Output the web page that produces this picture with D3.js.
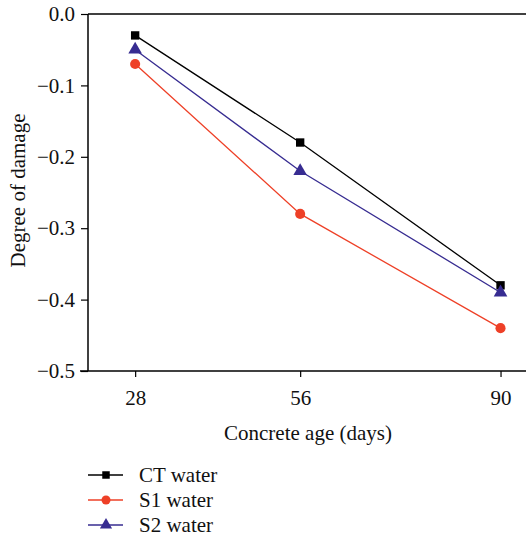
<!DOCTYPE html>
<html>
<head>
<meta charset="utf-8">
<script src="https://cdn.jsdelivr.net/npm/d3@7"></script>
<style>
  html, body { margin: 0; padding: 0; background: #fff; }
  svg text { font-family: "Liberation Serif", "DejaVu Serif", serif; fill: #111; }
</style>
</head>
<body>
<svg id="chart" width="526" height="540"></svg>
<script>
// Concrete age (days) and degree of damage per water type
const ages = [28, 56, 90];
const ctWater = [-0.03, -0.18, -0.38];
const s1Water = [-0.07, -0.28, -0.44];
const s2Water = [-0.05, -0.22, -0.39];
const seriesNames = ["CT water", "S1 water", "S2 water"];
const yTicks = [0.0, -0.1, -0.2, -0.3, -0.4, -0.5];

const series = [
  { name: seriesNames[0], values: ctWater, color: "#000000", symbol: d3.symbolSquare, size: 70 },
  { name: seriesNames[1], values: s1Water, color: "#ee4027", symbol: d3.symbolCircle, size: 80 },
  { name: seriesNames[2], values: s2Water, color: "#372c91", symbol: d3.symbolTriangle, size: 80 }
];

const FONT = 21;
const svg = d3.select("#chart");
const plotLeft = 88, plotTop = 14, plotBottom = 371, plotRight = 530;

const x = d3.scaleLinear().domain([20, 95]).range([plotLeft, plotRight]);
const y = d3.scaleLinear().domain([-0.5, 0]).range([plotBottom, plotTop]);

const fmt = v => (v < 0 ? "\u2212" : "") + Math.abs(v).toFixed(1);

// Axes
const yAxis = svg.append("g")
  .attr("transform", `translate(${plotLeft},0)`)
  .call(d3.axisLeft(y).tickValues(yTicks).tickFormat(fmt).tickSize(7).tickPadding(6));
const xAxis = svg.append("g")
  .attr("transform", `translate(0,${plotBottom})`)
  .call(d3.axisBottom(x).tickValues(ages).tickFormat(d3.format("d")).tickSize(6).tickPadding(13));
// Top frame line
svg.append("line")
  .attr("x1", plotLeft).attr("x2", plotRight).attr("y1", plotTop).attr("y2", plotTop)
  .attr("stroke", "#000").attr("stroke-width", 1.5);

[yAxis, xAxis].forEach(g => {
  g.selectAll("path.domain").attr("stroke", "#000").attr("stroke-width", 1.5);
  g.selectAll(".tick line").attr("stroke", "#000").attr("stroke-width", 1.2);
  g.selectAll(".tick text").attr("font-size", FONT).attr("font-family", "Liberation Serif, serif").attr("fill", "#111");
});
yAxis.select("path.domain").attr("d", `M0,${plotBottom}V${plotTop}`);
xAxis.select("path.domain").attr("d", `M${plotLeft - 8},0H${plotRight}`);

// Axis titles
svg.append("text")
  .attr("x", 308).attr("y", 440)
  .attr("text-anchor", "middle").attr("font-size", FONT)
  .text("Concrete age (days)");
svg.append("text")
  .attr("transform", `translate(25,${(plotTop + plotBottom) / 2 - 2}) rotate(-90)`)
  .attr("text-anchor", "middle").attr("font-size", FONT)
  .text("Degree of damage");

// Lines and markers
const line = d3.line().x((d, i) => x(ages[i])).y(d => y(d));
series.forEach(s => {
  svg.append("path")
    .datum(s.values)
    .attr("d", line)
    .attr("fill", "none")
    .attr("stroke", s.color)
    .attr("stroke-width", 1.3);
  svg.selectAll(null)
    .data(s.values)
    .enter().append("path")
    .attr("transform", (d, i) => `translate(${x(ages[i])},${y(d)})`)
    .attr("d", d3.symbol().type(s.symbol).size(s.size))
    .attr("fill", s.color);
});

// Legend
const legend = svg.append("g").attr("transform", "translate(88,475)");
series.forEach((s, i) => {
  const g = legend.append("g").attr("transform", `translate(0,${i * 25})`);
  g.append("line").attr("x1", 0).attr("x2", 35).attr("y1", 0).attr("y2", 0)
    .attr("stroke", s.color).attr("stroke-width", 1.5);
  g.append("path").attr("transform", "translate(18,0)")
    .attr("d", d3.symbol().type(s.symbol).size(s.size * 0.8))
    .attr("fill", s.color);
  g.append("text").attr("x", 51).attr("y", 7).attr("font-size", FONT).text(s.name);
});
</script>
</body>
</html>
